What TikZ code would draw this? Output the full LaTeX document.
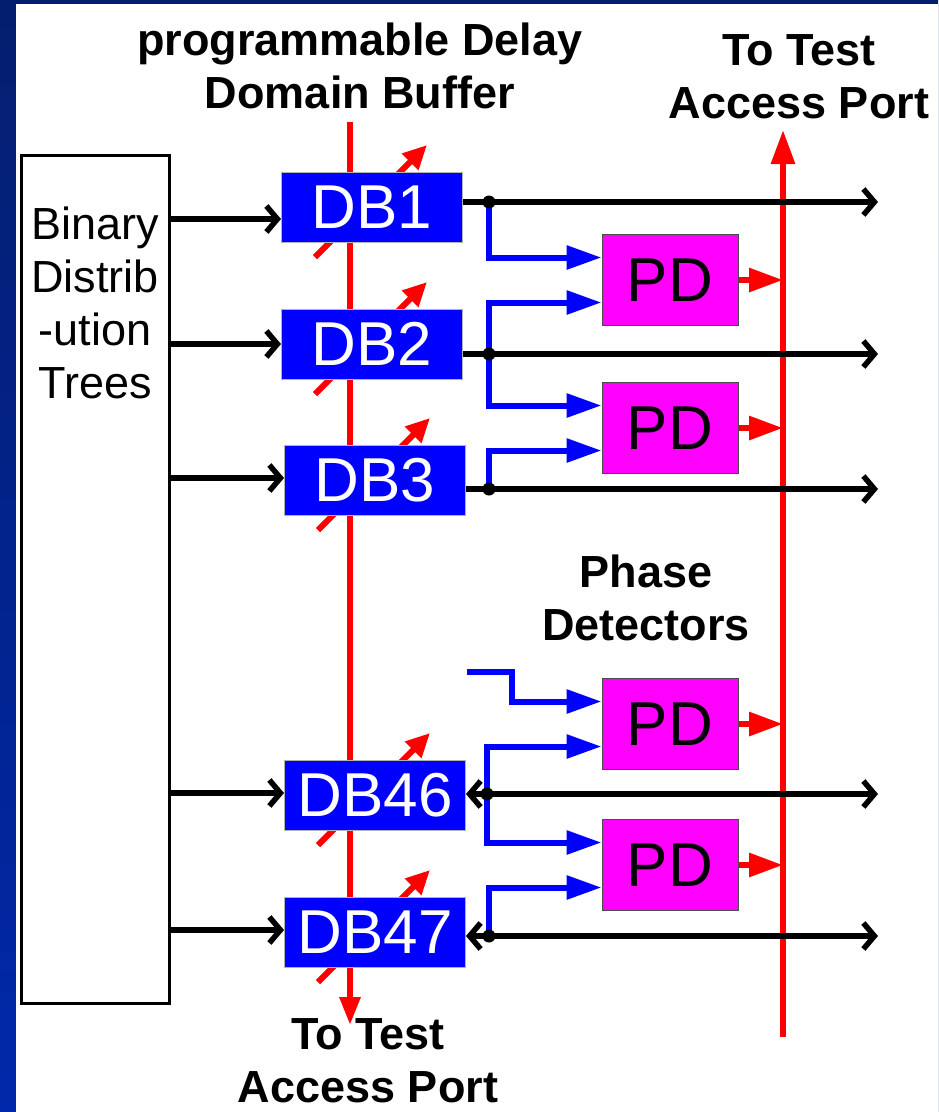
\documentclass[tikz,border=0pt]{standalone}
\usepackage{fontspec}
\setmainfont{Liberation Sans}
\definecolor{dbblue}{RGB}{0,0,255}
\definecolor{pdmagenta}{RGB}{255,0,255}
\definecolor{tapred}{RGB}{255,0,0}
\definecolor{slidetop}{RGB}{4,30,110}
\definecolor{slidebot}{RGB}{0,40,170}
\usetikzlibrary{arrows.meta,calc}
\pgfdeclarelayer{frame}
\pgfdeclarelayer{wires}
\pgfsetlayers{frame,wires,main}

\begin{document}
\begin{tikzpicture}[x=1pt,y=-1pt,
  every node/.style={font=\fontsize{45}{53}\selectfont},
  dbbox/.style={draw=gray!60,line width=1pt,fill=dbblue,text=white,inner sep=0pt,
        minimum width=181pt,minimum height=70pt,font=\fontsize{62}{70}\selectfont},
  pdbox/.style={draw=black!70,line width=1pt,fill=pdmagenta,inner sep=0pt,
        minimum width=136pt,minimum height=91pt,font=\fontsize{62}{70}\selectfont},
  caption/.style={align=center,anchor=base,font=\fontsize{45}{53}\selectfont\bfseries},
  sig/.style={line width=5.5pt,-{Straight Barb[length=11pt,width=26pt]}},
  sigboth/.style={line width=5.5pt,{Straight Barb[length=11pt,width=26pt]}-{Straight Barb[length=11pt,width=26pt]}},
  tap/.style={line width=6pt,tapred,-{Triangle[length=34pt,width=23pt]}},
  tune/.style={line width=6pt,tapred,-{Triangle[length=24pt,width=22pt]}},
  feed/.style={line width=6pt,dbblue,-{Triangle[length=35pt,width=23pt]}}]
  \useasboundingbox (0,0) rectangle (938,1112);
  %% slide frame
  \begin{pgfonlayer}{frame}
    \shade[top color=slidetop,bottom color=slidebot] (0,0) rectangle (938,1112);
    \fill[white] (16,4) rectangle (938,1112);
  \end{pgfonlayer}
  %% distribution trees
  \node[draw,line width=3pt,minimum width=148pt,minimum height=848pt,inner sep=0pt]
        (bdt) at (95,579) {};
  \node[align=center,anchor=base] (bdtname) at (95,398) {Binary\\Distrib\\-ution\\Trees};
  %% delay buffers
  \node[dbbox] (db1) at (372,207) {DB1};
  \node[dbbox] (db2) at (372,344) {DB2};
  \node[dbbox] (db3) at (375,480) {DB3};
  \node[dbbox] (db46) at (375,795) {DB46};
  \node[dbbox] (db47) at (375,932) {DB47};
  %% phase detectors
  \node[pdbox] (pd1) at (670,280) {PD};
  \node[pdbox] (pd2) at (670,428) {PD};
  \node[pdbox] (pd3) at (670,724) {PD};
  \node[pdbox] (pd4) at (670,865) {PD};
  %% captions
  \node[caption] (bufname) at (360,108) {programmable Delay\\Domain Buffer};
  \node[caption] (tapname) at (799,118) {To Test\\Access Port};
  \node[caption] (pdname) at (646,640) {Phase\\Detectors};
  \node[caption] (portname) at (368,1102) {To Test\\Access Port};
  %% taps and junctions
  \coordinate (dtop) at (350,122);
  \coordinate (dbot) at (350,1025);
  \coordinate (tapt) at (783,130);
  \coordinate (tapb) at (783,1037);
  \coordinate (rim) at (878,0);
  \coordinate (stub) at (467,672);
  \coordinate (j1) at (489,202);
  \coordinate (j2) at (489,354);
  \coordinate (j3) at (489,489);
  \coordinate (j46) at (487,794);
  \coordinate (j47) at (489,936);
  \begin{pgfonlayer}{wires}
    \draw[tap,-{Triangle[length=28pt,width=20pt]}] (dtop) -- (dbot);
    \draw[tap] (tapb) -- (tapt);
    \foreach \n in {db1,db2,db3,db46,db47}
      \draw[tune] ([shift={(-57,50)}]\n.center) -- ([shift={(55,-62)}]\n.center);
  \end{pgfonlayer}
  %% inputs
  \foreach \n/\dy in {db1/-12,db2/0,db3/2,db46/2,db47/2}
    \draw[sig] ([yshift=\dy pt]\n.west -| bdt.east) -- ([yshift=\dy pt]\n.west);
  %% outputs
  \draw[sig] (db1.east |- j1) -- (j1 -| rim);
  \draw[sig] (db2.east |- j2) -- (j2 -| rim);
  \draw[sig] (db3.east |- j3) -- (j3 -| rim);
  \draw[sigboth] (db46.east |- j46) -- (j46 -| rim);
  \draw[sigboth] (db47.east |- j47) -- (j47 -| rim);
  %% detector inputs
  \draw[feed] (j1) |- ([yshift=22.5pt]pd1.west);
  \draw[feed] (j2) |- ([yshift=-22.5pt]pd1.west);
  \draw[feed] (j2) |- ([yshift=22.5pt]pd2.west);
  \draw[feed] (j3) |- ([yshift=-22.5pt]pd2.west);
  \draw[feed] (stub) -- ++(45,0) |- ([yshift=22.5pt]pd3.west);
  \draw[feed] (j46) |- ([yshift=-22.5pt]pd3.west);
  \draw[feed] (j46) |- ([yshift=22.5pt]pd4.west);
  \draw[feed] (j47) |- ([yshift=-22.5pt]pd4.west);
  \foreach \j in {j1,j2,j3,j46,j47}
    \fill (\j) circle (6.5pt);
  %% detector outputs
  \foreach \p in {pd1,pd2,pd3,pd4}
    \draw[tap] (\p.east) -- (\p.east -| tapt);
\end{tikzpicture}
\end{document}
